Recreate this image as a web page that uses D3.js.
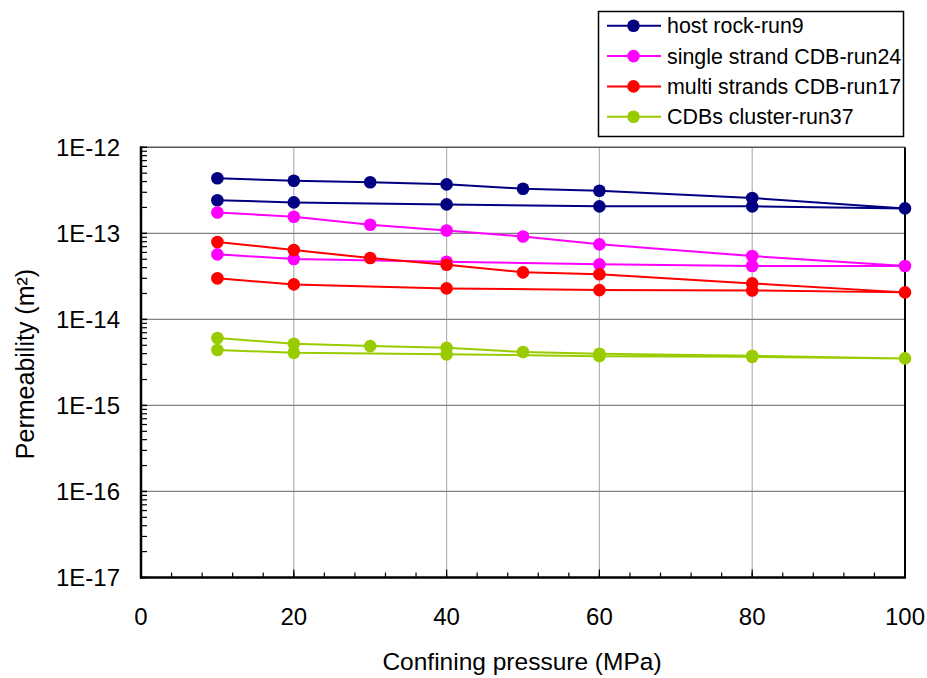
<!DOCTYPE html>
<html><head><meta charset="utf-8">
<script src="https://cdn.jsdelivr.net/npm/d3@7"></script>
<style>body{margin:0;background:#fff}svg{font-family:"Liberation Sans",Arial,sans-serif}</style>
</head><body><svg id="c" width="927" height="678"></svg>
<script>
const pressure = [10,20,30,40,50,60,80,100,80,60,40,20,10];
const seriesNames = ["host rock-run9","single strand CDB-run24","multi strands CDB-run17","CDBs cluster-run37"];
const seriesColors = ["#000080","#FF00FF","#FF0000","#99CC00"];
const hostRock = [4.36e-13,4.09e-13,3.92e-13,3.71e-13,3.30e-13,3.13e-13,2.57e-13,1.95e-13,2.06e-13,2.06e-13,2.17e-13,2.29e-13,2.42e-13];
const singleStrand = [1.75e-13,1.56e-13,1.26e-13,1.08e-13,9.2e-14,7.45e-14,5.45e-14,4.17e-14,4.17e-14,4.36e-14,4.68e-14,5.03e-14,5.70e-14];
const multiStrands = [7.92e-14,6.40e-14,5.16e-14,4.31e-14,3.52e-14,3.34e-14,2.62e-14,2.06e-14,2.17e-14,2.19e-14,2.29e-14,2.55e-14,3.00e-14];
const cdbCluster = [6.07e-15,5.20e-15,4.89e-15,4.67e-15,4.17e-15,3.98e-15,3.77e-15,3.52e-15,3.67e-15,3.74e-15,3.92e-15,4.09e-15,4.40e-15];
const xTicks = [0,20,40,60,80,100];
const yTicks = [1e-17,1e-16,1e-15,1e-14,1e-13,1e-12];
const yTickLabels = ["1E-17","1E-16","1E-15","1E-14","1E-13","1E-12"];
const xTitle = "Confining pressure (MPa)";
const yTitle = "Permeability (m²)";

const allSeries = [hostRock,singleStrand,multiStrands,cdbCluster];
const svg = d3.select("#c");
const L=141,R=905,T=147.3,B=577.5;
const x = d3.scaleLinear().domain([0,100]).range([L,R]);
const y = d3.scaleLog().domain([1e-17,1e-12]).range([B,T]);

// gridlines
svg.append("g").selectAll("line").data(xTicks.filter(d=>d>0&&d<100)).join("line")
  .attr("x1",d=>x(d)).attr("x2",d=>x(d)).attr("y1",T).attr("y2",B)
  .attr("stroke","#b4b4b4").attr("stroke-width",1.2);
svg.append("g").selectAll("line").data(yTicks.filter(d=>d>1e-17&&d<1e-12)).join("line")
  .attr("x1",L).attr("x2",R).attr("y1",d=>y(d)).attr("y2",d=>y(d))
  .attr("stroke","#808080").attr("stroke-width",1.2);

// frame top/right
svg.append("line").attr("x1",L).attr("x2",R).attr("y1",T).attr("y2",T).attr("stroke","#555").attr("stroke-width",1.5);
svg.append("line").attr("x1",R).attr("x2",R).attr("y1",T).attr("y2",B).attr("stroke","#000").attr("stroke-width",2);

// minor ticks y
const yMinor=[];
for(let e=-17;e<-12;e++) for(let m=2;m<=9;m++) yMinor.push(m*Math.pow(10,e));
svg.append("g").selectAll("line").data(yMinor).join("line")
  .attr("x1",L).attr("x2",L+6).attr("y1",d=>y(d)).attr("y2",d=>y(d)).attr("stroke","#000").attr("stroke-width",1.2);
svg.append("g").selectAll("line").data(yTicks).join("line")
  .attr("x1",L).attr("x2",L+6).attr("y1",d=>y(d)).attr("y2",d=>y(d)).attr("stroke","#000").attr("stroke-width",1.5);
// minor ticks x
const xMinor=d3.range(0,101,4);
svg.append("g").selectAll("line").data(xMinor).join("line")
  .attr("x1",d=>x(d)).attr("x2",d=>x(d)).attr("y1",B).attr("y2",B-5).attr("stroke","#000").attr("stroke-width",1.2);
svg.append("g").selectAll("line").data(xTicks).join("line")
  .attr("x1",d=>x(d)).attr("x2",d=>x(d)).attr("y1",B).attr("y2",B-8).attr("stroke","#000").attr("stroke-width",1.2);

// axes lines
svg.append("line").attr("x1",L).attr("x2",L).attr("y1",T-1).attr("y2",B+1).attr("stroke","#000").attr("stroke-width",2.5);
svg.append("line").attr("x1",L-1).attr("x2",R+1).attr("y1",B).attr("y2",B).attr("stroke","#000").attr("stroke-width",2.5);

// tick labels
svg.append("g").selectAll("text").data(yTicks).join("text")
  .attr("x",120).attr("y",d=>y(d)+8.5).attr("text-anchor","end")
  .attr("font-size",24).text((d,i)=>yTickLabels[i]);
svg.append("g").selectAll("text").data(xTicks).join("text")
  .attr("x",d=>x(d)).attr("y",624.5).attr("text-anchor","middle")
  .attr("font-size",24).text(d=>d);
svg.append("text").attr("x",522).attr("y",670).attr("text-anchor","middle").attr("font-size",24.5).text(xTitle);
svg.append("text").attr("transform",`translate(33.5,364) rotate(-90)`).attr("text-anchor","middle").attr("font-size",25).text(yTitle);

// series
const line = d3.line().x((d,i)=>x(pressure[i])).y(d=>y(d));
allSeries.forEach((s,k)=>{
  const g=svg.append("g");
  g.append("path").datum(s).attr("d",line).attr("fill","none").attr("stroke",seriesColors[k]).attr("stroke-width",2);
  g.selectAll("circle").data(s).join("circle").attr("cx",(d,i)=>x(pressure[i])).attr("cy",d=>y(d)).attr("r",6.3).attr("fill",seriesColors[k]);
});

// legend
const lg=svg.append("g");
lg.append("rect").attr("x",598.5).attr("y",11.5).attr("width",305).attr("height",125).attr("fill","#fff").attr("stroke","#000").attr("stroke-width",1.5);
seriesNames.forEach((n,k)=>{
  const yy=25.8+k*30.3;
  lg.append("line").attr("x1",607).attr("x2",661).attr("y1",yy).attr("y2",yy).attr("stroke",seriesColors[k]).attr("stroke-width",2);
  lg.append("circle").attr("cx",633.5).attr("cy",yy).attr("r",6.3).attr("fill",seriesColors[k]);
  lg.append("text").attr("x",667).attr("y",yy+7.5).attr("font-size",21.4).text(n);
});
</script></body></html>
